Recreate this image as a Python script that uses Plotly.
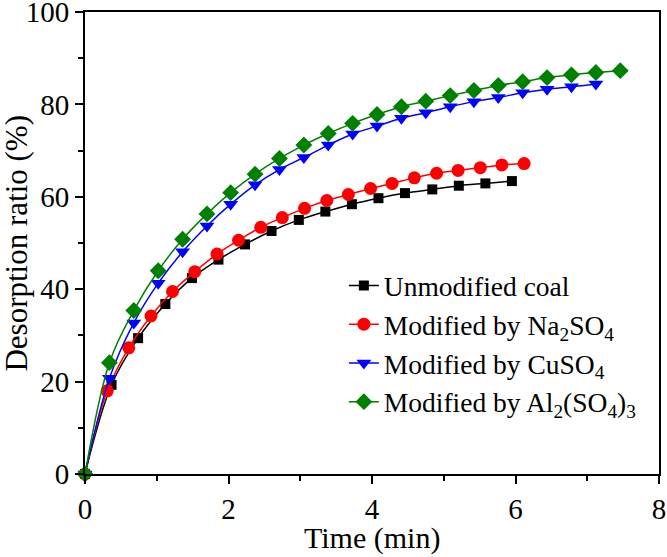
import plotly.graph_objects as go

# Times (min) and desorption ratios (%)
t_unmod = [0, 0.37, 0.74, 1.12, 1.49, 1.86, 2.23, 2.60, 2.98, 3.35, 3.72, 4.09, 4.46, 4.84, 5.21, 5.58, 5.95]
y_unmod = [0, 19.3, 29.4, 36.8, 42.4, 46.4, 49.7, 52.6, 55.0, 56.8, 58.4, 59.7, 60.8, 61.6, 62.4, 62.9, 63.4]

t_na = [0, 0.31, 0.61, 0.92, 1.22, 1.53, 1.84, 2.14, 2.45, 2.75, 3.06, 3.37, 3.67, 3.98, 4.28, 4.59, 4.90, 5.20, 5.51, 5.81, 6.12]
y_na = [0, 18.0, 27.3, 34.2, 39.5, 43.8, 47.6, 50.6, 53.4, 55.5, 57.5, 59.2, 60.5, 61.8, 62.9, 64.1, 65.1, 65.7, 66.3, 66.9, 67.2]

t_cu = [0, 0.34, 0.68, 1.02, 1.36, 1.70, 2.03, 2.37, 2.71, 3.05, 3.39, 3.73, 4.07, 4.41, 4.75, 5.09, 5.42, 5.76, 6.10, 6.44, 6.78, 7.12]
y_cu = [0, 20.7, 32.7, 41.3, 48.1, 53.7, 58.4, 62.6, 65.9, 68.5, 71.2, 73.6, 75.3, 77.0, 78.2, 79.5, 80.6, 81.5, 82.5, 83.3, 83.8, 84.4]

t_al = [0, 0.34, 0.68, 1.02, 1.36, 1.70, 2.03, 2.37, 2.71, 3.05, 3.39, 3.73, 4.07, 4.41, 4.75, 5.09, 5.42, 5.76, 6.10, 6.44, 6.78, 7.12, 7.46]
y_al = [0, 24.1, 35.4, 44.0, 50.8, 56.3, 60.9, 64.9, 68.3, 71.2, 73.7, 75.9, 77.8, 79.5, 80.7, 81.9, 83.0, 84.1, 84.9, 85.8, 86.4, 86.9, 87.3]

names = ["Unmodified coal",
         "Modified by Na<sub>2</sub>SO<sub>4</sub>",
         "Modified by CuSO<sub>4</sub>",
         "Modified by Al<sub>2</sub>(SO<sub>4</sub>)<sub>3</sub>"]
x_title = "Time (min)"
y_title = "Desorption ratio (%)"

FONT = "Liberation Serif, Times New Roman, serif"

fig = go.Figure()
series = [
    (t_unmod, y_unmod, names[0], "#000000", "square", 10),
    (t_na, y_na, names[1], "#ff0000", "circle", 13),
    (t_cu, y_cu, names[2], "#0000ff", "triangle-down", 13),
    (t_al, y_al, names[3], "#008000", "diamond", 13),
]
for t, y, nm, col, sym, sz in series:
    fig.add_trace(go.Scatter(
        x=t, y=y, name=nm, mode="lines+markers",
        line=dict(color=col, width=1.5, shape="spline", smoothing=1.0),
        marker=dict(color=col, symbol=sym, size=sz, line=dict(width=0)),
        cliponaxis=False,
    ))

axis_common = dict(
    showline=True, linecolor="black", linewidth=2, mirror=True,
    ticks="outside", ticklen=8, tickwidth=2, tickcolor="black",
    showgrid=False, zeroline=False, automargin=False,
    ticklabeloverflow="allow",
    tickfont=dict(family=FONT, size=29, color="black"),
)

fig.update_xaxes(range=[0, 8], dtick=2, tick0=0,
                 minor=dict(ticks="outside", ticklen=5, tickwidth=2, tickcolor="black", dtick=1),
                 **axis_common)
fig.update_yaxes(range=[0, 100], dtick=20, tick0=0,
                 minor=dict(ticks="outside", ticklen=5, tickwidth=2, tickcolor="black", dtick=10),
                 **axis_common)

fig.add_annotation(text=x_title, xref="paper", yref="paper", x=0.5, y=-0.1797,
                   xanchor="center", yanchor="bottom", showarrow=False,
                   font=dict(family=FONT, size=30, color="black"))
fig.add_annotation(text=y_title, xref="paper", yref="paper", x=-0.121, y=0.5,
                   xanchor="center", yanchor="middle", textangle=-90, showarrow=False,
                   font=dict(family=FONT, size=31, color="black"))

fig.update_layout(
    width=667, height=557,
    margin=dict(l=85, r=8, t=12, b=83),
    plot_bgcolor="white", paper_bgcolor="white",
    legend=dict(x=0.451, y=0.461, xanchor="left", yanchor="top",
                font=dict(family=FONT, size=27.5, color="black"),
                bgcolor="rgba(0,0,0,0)", tracegroupgap=0, itemwidth=30),
    showlegend=True,
)

fig.write_html("out.html", config={"displayModeBar": False},
               post_script="document.body.style.margin='0';")
